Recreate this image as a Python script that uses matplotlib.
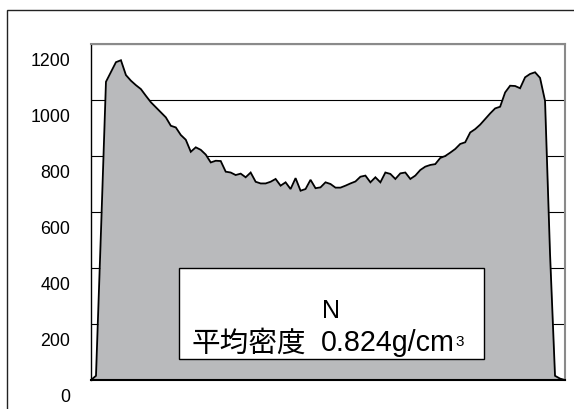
import matplotlib
matplotlib.use("Agg")
import matplotlib.pyplot as plt
from matplotlib.patches import Rectangle
from matplotlib.transforms import ScaledTranslation

# Density profile across the board thickness (kg/m3), one value per measuring step
density = [
    0, 15, 530, 1065, 1100, 1135, 1142, 1089, 1069, 1053,
    1039, 1015, 992, 974, 956, 938, 908, 902, 875, 858,
    815, 831, 822, 805, 777, 783, 782, 744, 741, 732,
    737, 724, 741, 708, 702, 702, 708, 718, 694, 706,
    682, 721, 676, 682, 715, 685, 688, 706, 700, 687,
    687, 694, 702, 709, 726, 730, 706, 724, 706, 741,
    736, 718, 738, 741, 718, 730, 750, 762, 768, 771,
    793, 800, 812, 825, 843, 849, 884, 896, 912, 932,
    952, 970, 976, 1027, 1051, 1050, 1042, 1081, 1093, 1099,
    1079, 997, 451, 15, 5, 0,
]
y_ticks = [0, 200, 400, 600, 800, 1000, 1200]
sample_name = "N"
mean_caption = "平均密度"
mean_value = "0.824g/cm"
mean_unit_sup = "3"

W, H = 574, 410
fig = plt.figure(figsize=(W / 100, H / 100), dpi=100)
fig.patch.set_facecolor("white")

def fx(px):
    return px / W

def fy(py):
    return 1 - py / H

# outer chart frame
fig.patches.append(Rectangle((fx(7), fy(430)), fx(600) - fx(7), fy(11) - fy(430),
                             transform=fig.transFigure, fill=False,
                             edgecolor="#222222", lw=1.0))

ax = fig.add_axes([fx(91), fy(381), fx(565) - fx(91), fy(45) - fy(381)])
x = list(range(len(density)))
ax.fill_between(x, density, 0, color="#B9BABC", zorder=2, lw=0)
ax.plot(x, density, color="black", lw=1.3, zorder=3, solid_joinstyle="miter")

ax.set_xlim(0, len(density) - 1)
ax.set_ylim(0, 1200)
ax.set_xticks([])
ax.set_yticks(y_ticks)
ax.set_yticklabels([str(v) for v in y_ticks], fontsize=12.8,
                   family=["Liberation Sans", "DejaVu Sans"])
ax.tick_params(axis="y", length=0, pad=15)
for lab in ax.get_yticklabels():
    lab.set_transform(lab.get_transform() + ScaledTranslation(0, -15 / 100, fig.dpi_scale_trans))

ax.set_axisbelow(True)
ax.yaxis.grid(True, color="black", lw=0.8)

ax.spines["left"].set_color("black")
ax.spines["left"].set_linewidth(1.0)
ax.spines["bottom"].set_color("black")
ax.spines["bottom"].set_linewidth(1.5)
for s in ("top", "right"):
    ax.spines[s].set_color("#8a8a8a")
    ax.spines[s].set_linewidth(1.5)
for s in ax.spines.values():
    s.set_zorder(5)

# label box
fig.patches.append(Rectangle((fx(178.5), fy(360)), fx(483.5) - fx(178.5), fy(268.5) - fy(360),
                             transform=fig.transFigure, facecolor="white",
                             edgecolor="black", lw=1.0, zorder=6))
fam = ["Liberation Sans", "Noto Sans CJK JP"]
fig.text(fx(331), fy(318.5), sample_name, ha="center", va="baseline",
         fontsize=18, family=fam, zorder=7)
fig.text(fx(192), fy(351.5), mean_caption, ha="left", va="baseline",
         fontsize=20.6, family=fam, zorder=7)
fig.text(fx(455), fy(351.5), mean_value, ha="right", va="baseline",
         fontsize=20.6, family=fam, zorder=7)
fig.text(fx(455), fy(346.5), mean_unit_sup, ha="left", va="baseline",
         fontsize=11, family=fam, zorder=7)

fig.savefig("out.png", dpi=100, facecolor="white")
